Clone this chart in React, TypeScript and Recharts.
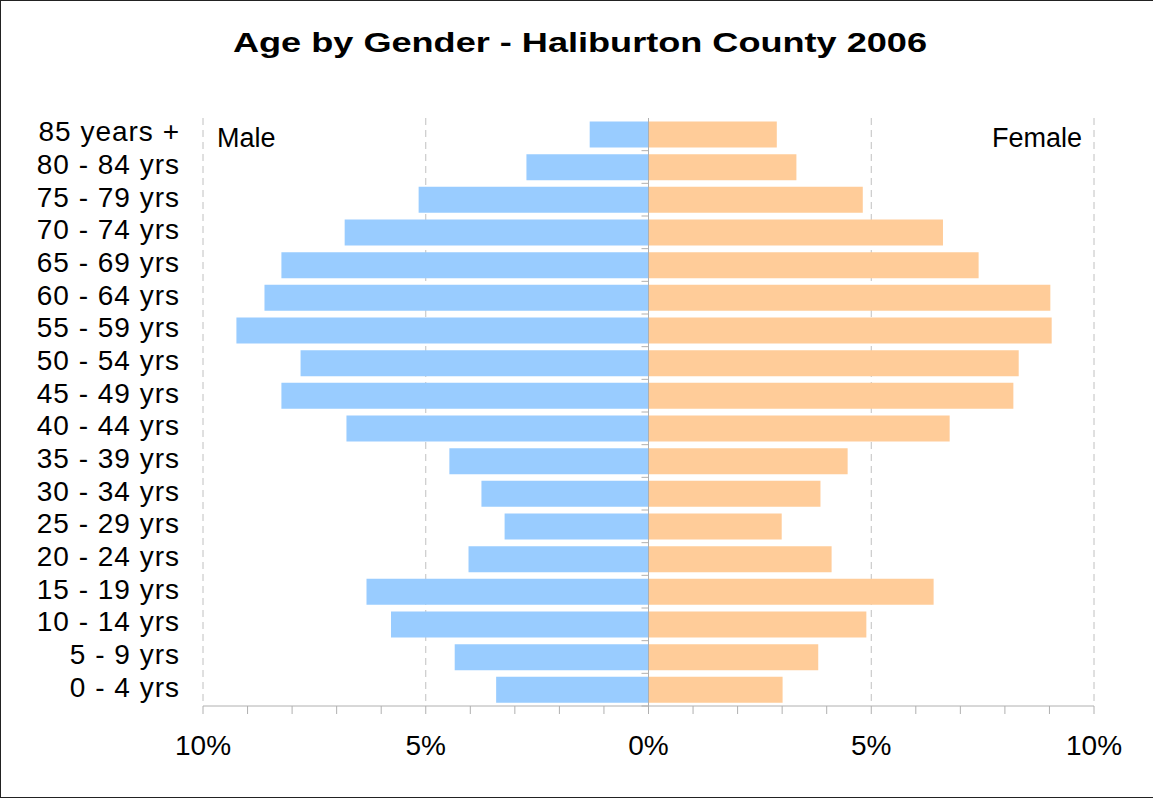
import { BarChart, Bar, XAxis, YAxis, CartesianGrid, ReferenceLine } from "recharts";

const FONT = '"Liberation Sans", Arial, sans-serif';
const MALE_COLOR = "#99CCFF";
const FEMALE_COLOR = "#FFCC99";
const AXIS_GRAY = "#b0b0b0";

// Age groups, oldest at the top
const AGE_GROUPS = [
  "85 years +",
  "80 - 84 yrs",
  "75 - 79 yrs",
  "70 - 74 yrs",
  "65 - 69 yrs",
  "60 - 64 yrs",
  "55 - 59 yrs",
  "50 - 54 yrs",
  "45 - 49 yrs",
  "40 - 44 yrs",
  "35 - 39 yrs",
  "30 - 34 yrs",
  "25 - 29 yrs",
  "20 - 24 yrs",
  "15 - 19 yrs",
  "10 - 14 yrs",
  "5 - 9 yrs",
  "0 - 4 yrs",
];

// Share of each gender's population (%)
const MALE = [1.32, 2.74, 5.16, 6.82, 8.24, 8.62, 9.25, 7.81, 8.24, 6.78, 4.47, 3.75, 3.23, 4.04, 6.33, 5.78, 4.35, 3.42];
const FEMALE = [2.88, 3.32, 4.81, 6.61, 7.41, 9.02, 9.05, 8.31, 8.19, 6.76, 4.47, 3.86, 2.99, 4.11, 6.4, 4.89, 3.81, 3.01];

const PCT_TICKS = [-10, -9, -8, -7, -6, -5, -4, -3, -2, -1, 0, 1, 2, 3, 4, 5, 6, 7, 8, 9, 10];
const PCT_LABELS = [-10, -5, 0, 5, 10];
const GRID_LINES = [-10, -5, 5, 10];

const data = AGE_GROUPS.map((age, i) => ({
  age,
  male: -MALE[i],
  female: FEMALE[i],
}));

function AgeTick({ x, y, payload }: any) {
  return (
    <text
      x={x}
      y={y}
      dy={7}
      textAnchor="end"
      fontFamily={FONT}
      fontSize={28}
      letterSpacing={1}
      fill="#000"
    >
      {payload.value}
    </text>
  );
}

function PctTick({ x, y, payload }: any) {
  if (!PCT_LABELS.includes(payload.value)) return null;
  return (
    <text x={x} y={y} dy={39} textAnchor="middle" fontFamily={FONT} fontSize={28} fill="#000">
      {Math.abs(payload.value)}%
    </text>
  );
}

// zero axis with small tick marks between the age groups
function ZeroAxis(props: any) {
  const { x1, y1, x2, y2 } = props;
  const step = (y2 - y1) / AGE_GROUPS.length;
  const marks = [];
  for (let i = 0; i < AGE_GROUPS.length; i++) {
    const y = y1 + i * step;
    marks.push(<line key={i} x1={x1 - 7} y1={y} x2={x1} y2={y} stroke={AXIS_GRAY} />);
  }
  return (
    <g>
      <line x1={x1} y1={y1} x2={x2} y2={y2} stroke={AXIS_GRAY} />
      {marks}
    </g>
  );
}

export default function App() {
  return (
    <div
      style={{
        position: "fixed",
        left: 0,
        top: 0,
        width: 1153,
        height: 799,
        background: "#fff",
        overflow: "hidden",
        fontFamily: FONT,
      }}
    >
      <div
        style={{
          position: "absolute",
          left: 0,
          top: 0,
          width: 1170,
          height: 796,
          borderTop: "1.5px solid #222",
          borderLeft: "1.5px solid #222",
          borderBottom: "1.5px solid #222",
        }}
      />
      <BarChart
        width={1153}
        height={799}
        layout="vertical"
        data={data}
        stackOffset="sign"
        barCategoryGap={3.5}
        margin={{ top: 118, right: 59, bottom: 43, left: 0 }}
      >
        <CartesianGrid
          horizontal={false}
          verticalValues={GRID_LINES}
          stroke="#c0c0c0"
          strokeDasharray="7 5"
        />
        <XAxis
          type="number"
          domain={[-10, 10]}
          ticks={PCT_TICKS}
          interval={0}
          height={50}
          tickSize={8}
          axisLine={{ stroke: AXIS_GRAY }}
          tickLine={{ stroke: AXIS_GRAY }}
          tick={<PctTick />}
        />
        <YAxis
          type="category"
          dataKey="age"
          width={203}
          interval={0}
          axisLine={false}
          tickLine={false}
          tickSize={0}
          tickMargin={23}
          tick={<AgeTick />}
        />
        <Bar dataKey="male" stackId="pop" fill={MALE_COLOR} isAnimationActive={false} />
        <Bar dataKey="female" stackId="pop" fill={FEMALE_COLOR} isAnimationActive={false} />
        <ReferenceLine x={0} shape={<ZeroAxis />} />
      </BarChart>
      <svg
        width={1153}
        height={799}
        style={{ position: "absolute", left: 0, top: 0, pointerEvents: "none" }}
      >
        <text
          transform="translate(580,52) scale(1.29,1)"
          textAnchor="middle"
          fontFamily={FONT}
          fontSize={28}
          fontWeight="bold"
          fill="#000"
        >
          Age by Gender - Haliburton County 2006
        </text>
        <text x={217} y={147} fontFamily={FONT} fontSize={27} fill="#000">
          Male
        </text>
        <text x={1082} y={147} textAnchor="end" fontFamily={FONT} fontSize={27} fill="#000">
          Female
        </text>
      </svg>
    </div>
  );
}
